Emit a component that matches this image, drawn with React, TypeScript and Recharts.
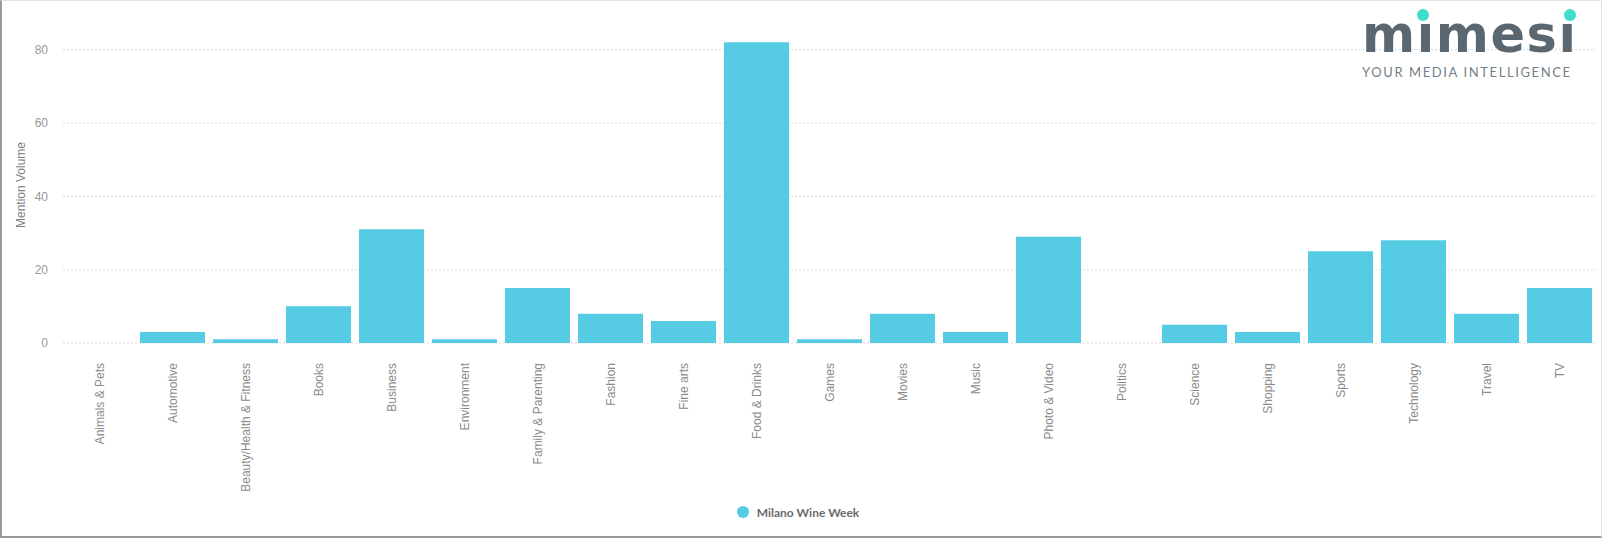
import { BarChart, Bar, XAxis, YAxis, CartesianGrid, Legend, Label } from 'recharts';

// Mention volume per topic
const categories = [
  'Animals & Pets', 'Automotive', 'Beauty/Health & Fitness', 'Books', 'Business',
  'Environment', 'Family & Parenting', 'Fashion', 'Fine arts', 'Food & Drinks',
  'Games', 'Movies', 'Music', 'Photo & Video', 'Politics', 'Science', 'Shopping',
  'Sports', 'Technology', 'Travel', 'TV',
];
const mentions = [0, 3, 1, 10, 31, 1, 15, 8, 6, 82, 1, 8, 3, 29, 0, 5, 3, 25, 28, 8, 15];
const yTicks = [0, 20, 40, 60, 80];
const seriesName = 'Milano Wine Week';

const data = categories.map((category, i) => ({ category, value: mentions[i] }));

const BAR_COLOR = '#56cce4';
const FONT = '"Liberation Sans", Arial, sans-serif';

const CategoryTick = (props: any) => {
  const { x, y, payload } = props;
  return (
    <g transform={`translate(${x},${y})`}>
      <text
        transform="rotate(-90)"
        x={-12}
        y={0}
        dy="0.35em"
        textAnchor="end"
        fill="#8a8a8a"
        fontSize={12}
        fontFamily={FONT}
      >
        {payload.value}
      </text>
    </g>
  );
};

const LegendContent = () => (
  <div style={{ display: 'flex', justifyContent: 'center', alignItems: 'center', height: 30 }}>
    <svg width={12} height={12}>
      <circle cx={6} cy={6} r={6} fill={BAR_COLOR} />
    </svg>
    <span style={{ marginLeft: 8, fontFamily: 'Lato, sans-serif', fontWeight: 700, fontSize: 12, color: '#6b6b6b' }}>
      {seriesName}
    </span>
  </div>
);

// mimesi logo, top right
const Logo = () => (
  <svg width={1602} height={538} style={{ position: 'absolute', left: 0, top: 0, pointerEvents: 'none' }}>
    <text x={1362} y={52} textLength={214} lengthAdjust="spacing" fontFamily='"DejaVu Sans", sans-serif' fontWeight={700} fontSize={51} fill="#5b6770">
      mımesı
    </text>
    <circle cx={1423} cy={15} r={6} fill="#3fdcca" />
    <circle cx={1570} cy={15} r={6} fill="#3fdcca" />
    <text x={1362} y={77} textLength={208} lengthAdjust="spacing" fontFamily="Lato, sans-serif" fontWeight={400} fontSize={13} fill="#737f87">
      YOUR MEDIA INTELLIGENCE
    </text>
  </svg>
);

export default function App() {
  return (
    <div style={{ position: 'fixed', left: 0, top: 0, width: 1602, height: 538, background: '#fff' }}>
      <BarChart
        width={1602}
        height={538}
        data={data}
        margin={{ top: 13, right: 6, left: 0, bottom: 11 }}
        barCategoryGap={4}
      >
        <CartesianGrid vertical={false} horizontalValues={yTicks} stroke="#d8d8d8" strokeDasharray="2 2" />
        <XAxis
          dataKey="category"
          interval={0}
          height={154}
          axisLine={false}
          tickLine={false}
          tick={<CategoryTick />}
        />
        <YAxis
          width={63}
          domain={[0, 90]}
          ticks={yTicks}
          axisLine={false}
          tickLine={false}
          tickMargin={9}
          tick={{ fill: '#999', fontSize: 12, fontFamily: FONT }}
        >
          <Label
            content={() => (
              <text
                x={21}
                y={185}
                transform="rotate(-90 21 185)"
                textAnchor="middle"
                dominantBaseline="central"
                fill="#808080"
                fontSize={12}
                fontFamily={FONT}
              >
                Mention Volume
              </text>
            )}
          />
        </YAxis>
        <Legend verticalAlign="bottom" height={30} content={<LegendContent />} />
        <Bar dataKey="value" name={seriesName} fill={BAR_COLOR} isAnimationActive={false} />
      </BarChart>
      <Logo />
      <div
        style={{
          position: 'absolute', left: 0, top: 0, width: 1602, height: 538, boxSizing: 'border-box',
          borderLeft: '2px solid #9a9a9a', borderBottom: '2px solid #9a9a9a',
          borderTop: '1px solid #e4e4e4', borderRight: '1px solid #e4e4e4', pointerEvents: 'none',
        }}
      />
    </div>
  );
}
